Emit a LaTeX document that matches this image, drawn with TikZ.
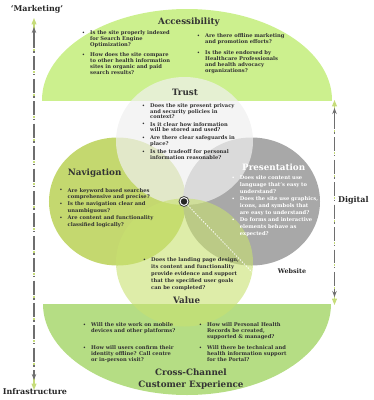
\documentclass[tikz,border=0pt]{standalone}
\usepackage{fontspec}
\setmainfont{DejaVu Serif}
\usetikzlibrary{arrows.meta,shapes.geometric}
\definecolor{accgreen}{HTML}{CCF08E}
\definecolor{ccgreen}{HTML}{B5DD84}
\definecolor{navgreen}{HTML}{C4D86F}
\definecolor{presgray}{HTML}{A8A8A8}
\definecolor{trustfill}{HTML}{F0F0F0}
\definecolor{valfill}{HTML}{C8E170}
\definecolor{txt}{HTML}{333333}
\definecolor{axisgray}{HTML}{6E6E6E}
\definecolor{axisgreen}{HTML}{C6DC7A}
\newcommand{\bitem}[1]{\makebox[8pt][l]{\raisebox{0.5pt}{\fontsize{4.4}{5}\selectfont\textbullet}}\begin{tabular}[t]{@{}l@{}}#1\end{tabular}}
\tikzset{
  qbase/.style={inner sep=0, anchor=base west, text=txt},
  qsix/.style={qbase, font=\fontsize{5.2}{5.9}\selectfont\bfseries},
  qtrust/.style={qbase, font=\fontsize{5.2}{5.7}\selectfont\bfseries},
  qnav/.style={qbase, font=\fontsize{5.2}{6.7}\selectfont\bfseries},
  qpres/.style={qbase, text=white, font=\fontsize{5.2}{6.8}\selectfont\bfseries},
  qval/.style={qbase, font=\fontsize{5.2}{7}\selectfont\bfseries},
  ttl/.style={inner sep=0, anchor=base, text=txt, font=\fontsize{8.8}{10}\selectfont\bfseries},
  axlabel/.style={inner sep=0, anchor=base, text=black!85, font=\fontsize{8}{9}\selectfont\bfseries},
  venn/.style={ellipse, inner sep=0, minimum width=137bp, minimum height=128bp},
  grayshaft/.style={axisgray, line width=1.1pt, dash pattern=on 14pt off 3.5pt on 1.5pt off 3.5pt},
  greenshaft/.style={axisgreen, line width=1.1pt, dash pattern=on 2pt off 5.5pt},
  grayhead/.style={axisgray, line width=1.1pt, -{Stealth[width=4.5pt,length=6pt]}},
  greenhead/.style={axisgreen, line width=1.1pt, -{Triangle[width=5pt,length=6.5pt]}}
}
\begin{document}
\begin{tikzpicture}[x=1bp,y=-1bp]
\useasboundingbox (0,0) rectangle (374,400);
% half-ellipses
\begin{scope}
  \clip (0,0) rectangle (374,100);
  \fill[accgreen] (187,100) ellipse [x radius=145, y radius=91];
\end{scope}
\begin{scope}
  \clip (0,304) rectangle (374,400);
  \fill[ccgreen] (187,304) ellipse [x radius=144, y radius=91];
\end{scope}
% venn ellipses
\node[venn, fill=navgreen] (nav) at (117.5,201.5) {};
\node[venn, fill=presgray] (pres) at (251.5,201.5) {};
\node[venn, fill=trustfill, fill opacity=0.7] (trust) at (184.5,141) {};
\node[venn, fill=valfill, fill opacity=0.6] (val) at (184.5,262.5) {};

% axes
\coordinate (L1) at (34,18);
\coordinate (L2) at (34,27);
\coordinate (L3) at (34,34);
\coordinate (L4) at (34,373);
\coordinate (L5) at (34,380);
\coordinate (L6) at (34,390);
\draw[greenshaft] (L3) -- (L4);
\draw[grayshaft] (L3) -- (L4);
\draw[greenhead] (L3) -- (L1);
\draw[grayhead] (L3) -- (L2);
\draw[greenhead] (L4) -- (L6);
\draw[grayhead] (L4) -- (L5);

\coordinate (R1) at (334.5,100);
\coordinate (R2) at (334.5,108);
\coordinate (R3) at (334.5,115);
\coordinate (R4) at (334.5,290);
\coordinate (R5) at (334.5,297);
\coordinate (R6) at (334.5,305);
\draw[greenshaft] (R3) -- (R4);
\draw[grayshaft] (R3) -- (R4);
\draw[greenhead] (R3) -- (R1);
\draw[grayhead] (R3) -- (R2);
\draw[greenhead] (R4) -- (R6);
\draw[grayhead] (R4) -- (R5);

\node[axlabel] (mkt) at (37,11) {‘Marketing’};
\node[axlabel] (infra) at (35,394.5) {Infrastructure};
\node[axlabel, anchor=base west] (dig) at (338,202) {Digital};
\node[inner sep=0, anchor=base, text=black!85, font=\fontsize{6.4}{7}\selectfont\bfseries] (web) at (292,273) {Website};

% centre marker and dotted line
\node[circle, draw=black!75, line width=0.8pt, fill=white, minimum size=10bp, inner sep=0] (ring) at (184,201.5) {};
\node[circle, fill=black!85, minimum size=6.5bp, inner sep=0] (dot) at (184,201.5) {};
\coordinate (webend) at (252,272);
\draw[white, line width=0.9pt, dash pattern=on 1.2pt off 1.6pt] (ring) -- (webend);

% Accessibility
\node[ttl] (acct) at (189,24.3) {Accessibility};
\node[qsix] (a1) at (82,34.8) {\bitem{Is the site properly indexed\\for Search Engine\\Optimization?}};
\node[qsix] (a2) at (82,56.8) {\bitem{How does the site compare\\to other health information\\sites in organic and paid\\search results?}};
\node[qsix] (a3) at (197,37.5) {\bitem{Are there offline marketing\\and promotion efforts?}};
\node[qsix] (a4) at (197,54.8) {\bitem{Is the site endorsed by\\Healthcare Professionals\\and health advocacy\\organizations?}};

% Trust
\node[ttl] (trt) at (185,95) {Trust};
\node[qtrust] (t1) at (142,107.5) {\bitem{Does the site present privacy\\and security policies in\\context?}};
\node[qtrust] (t2) at (142,126.3) {\bitem{Is it clear how information\\will be stored and used?}};
\node[qtrust] (t3) at (142,139.8) {\bitem{Are there clear safeguards in\\place?}};
\node[qtrust] (t4) at (142,153.8) {\bitem{Is the tradeoff for personal\\information reasonable?}};

% Navigation
\node[ttl, anchor=base west] (navt) at (67.7,175) {Navigation};
\node[qnav] (n1) at (59.5,192.2) {\bitem{Are keyword based searches\\comprehensive and precise?}};
\node[qnav] (n2) at (59.5,205.8) {\bitem{Is the navigation clear and\\unambiguous?}};
\node[qnav] (n3) at (59.5,219.8) {\bitem{Are content and functionality\\classified logically?}};

% Presentation
\node[ttl, text=white] (prest) at (273.7,170.7) {Presentation};
\node[qpres] (p1) at (231.7,179.8) {\bitem{Does site content use\\language that's easy to\\understand?}};
\node[qpres] (p2) at (231.7,200.8) {\bitem{Does the site use graphics,\\icons, and symbols that\\are easy to understand?}};
\node[qpres] (p3) at (231.7,221.5) {\bitem{Do forms and interactive\\elements behave as\\expected?}};

% Value
\node[qval] (v1) at (143,261.5) {\bitem{Does the landing page design,\\its content and functionality\\provide evidence and support\\that the specified user goals\\can be completed?}};
\node[ttl] (valt) at (186.7,303) {Value};

% Cross-channel
\node[qsix] (c1) at (83,326.5) {\bitem{Will the site work on mobile\\devices and other platforms?}};
\node[qsix] (c2) at (83,349.8) {\bitem{How will users confirm their\\identity offline? Call centre\\or in-person visit?}};
\node[qsix] (c3) at (199,326.5) {\bitem{How will Personal Health\\Records be created,\\supported \& managed?}};
\node[qsix] (c4) at (199,349.8) {\bitem{Will there be technical and\\health information support\\for the Portal?}};
\node[ttl] (cct1) at (191,375.5) {Cross-Channel};
\node[ttl] (cct2) at (191,387) {Customer Experience};
\end{tikzpicture}
\end{document}
